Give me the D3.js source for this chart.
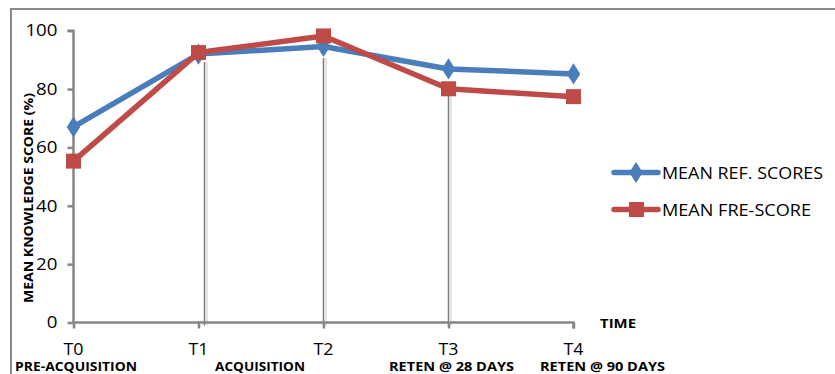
<!DOCTYPE html>
<html><head><meta charset="utf-8">
<script src="https://cdn.jsdelivr.net/npm/d3@7"></script>
<style>
html,body{margin:0;padding:0;background:#fff;}
svg{display:block;font-family:"Open Sans",sans-serif;}
</style></head>
<body><svg id="c" width="835" height="374"></svg>
<script>
const categories = ["T0","T1","T2","T3","T4"];
const phaseLabels = ["PRE-ACQUISITION","ACQUISITION","","RETEN @ 28 DAYS","RETEN @ 90 DAYS"];
const refScores = [67, 92, 94.6, 86.9, 85.2];
const freScores = [55.3, 92.5, 98.2, 80.1, 77.4];
const yTicks = [0,20,40,60,80,100];
const seriesNames = ["MEAN REF. SCORES","MEAN FRE-SCORE"];
const yTitle = "MEAN KNOWLEDGE SCORE (%)";
const xTitle = "TIME";

const svg = d3.select("#c");
const BLUE = "#4A7EBB", RED = "#BE4B48", AX = "#868686";

function stretch(sel, w){
  sel.attr("textLength", w).attr("lengthAdjust","spacingAndGlyphs");
}

// outer border
svg.append("rect").attr("x",11).attr("y",9).attr("width",840).attr("height",380)
  .attr("fill","none").attr("stroke","#8a8a8a").attr("stroke-width",2);

const x = d3.scalePoint().domain(categories).range([73.5,573.5]);
const y = d3.scaleLinear().domain([0,100]).range([322.5,30.7]);

// drop lines (hand-drawn in original)
const drops = [{c:"T1",dx:6,top:62},{c:"T2",dx:0,top:58},{c:"T3",dx:0,top:83}];
drops.forEach(d=>{
  svg.append("line").attr("x1",x(d.c)+d.dx+2.5).attr("x2",x(d.c)+d.dx+2.5)
    .attr("y1",d.top).attr("y2",y(0)+3).attr("stroke","#dcdcdc").attr("stroke-width",1.5);
  svg.append("line").attr("x1",x(d.c)+d.dx).attr("x2",x(d.c)+d.dx)
    .attr("y1",d.top).attr("y2",y(0)+3).attr("stroke","#7a7a7a").attr("stroke-width",1.5);
});

// y axis
const ya = svg.append("g").attr("transform",`translate(${x.range()[0]},0)`)
  .call(d3.axisLeft(y).tickValues(yTicks).tickSize(6).tickPadding(10));
ya.select(".domain").attr("stroke",AX).attr("stroke-width",2.5).attr("d",`M-6,${y(100)}H0V${y(0)}`);
ya.selectAll(".tick line").attr("stroke",AX).attr("stroke-width",2.5);
ya.selectAll(".tick text").attr("font-size",16.5).attr("fill","#000").attr("font-family","Open Sans")
  .each(function(d){ stretch(d3.select(this), String(d).length*10.7); });

// x axis
const xa = svg.append("g").attr("transform",`translate(0,${y(0)})`)
  .call(d3.axisBottom(x).tickSize(6).tickPadding(0).tickFormat(""));
xa.select(".domain").attr("stroke",AX).attr("stroke-width",2.5).attr("d",`M${x.range()[0]},0H${x.range()[1]}V6`);
xa.selectAll(".tick line").attr("stroke",AX).attr("stroke-width",2.5);

// category labels
svg.append("g").selectAll("text").data(categories).join("text")
  .attr("x",d=>x(d)).attr("y",355).attr("text-anchor","middle")
  .attr("font-size",15.5).attr("fill","#000").text(d=>d).call(stretch,20);

// phase labels
const phaseOffsets = [2.5, 61.5, 0, 3, 29];
const phaseWidths = [122, 90, 0, 125, 125];
svg.append("g").selectAll("text").data(phaseLabels.map((t,i)=>({t,i})).filter(d=>d.t)).join("text")
  .attr("x",d=>x(categories[d.i])+phaseOffsets[d.i]).attr("y",370.5).attr("text-anchor","middle")
  .attr("font-size",12.5).attr("font-weight","bold").attr("fill","#000")
  .attr("textLength",d=>phaseWidths[d.i]).attr("lengthAdjust","spacingAndGlyphs").text(d=>d.t);

// axis titles
svg.append("text").attr("transform","translate(33,198) rotate(-90)").attr("text-anchor","middle")
  .attr("font-size",13).attr("font-weight","bold").text(yTitle).call(stretch,210);
svg.append("text").attr("x",600).attr("y",328).attr("font-size",13).attr("font-weight","bold").text(xTitle).call(stretch,36);

// series
const line = d3.line().x((d,i)=>x(categories[i])).y(d=>y(d));
const diamond = d3.symbol().type(d3.symbolDiamond).size(130);
function drawSeries(vals,color,marker){
  svg.append("path").datum(vals).attr("d",line).attr("fill","none")
    .attr("stroke",color).attr("stroke-width",5.5).attr("stroke-linejoin","round").attr("stroke-linecap","round");
  const g = svg.append("g");
  if(marker==="diamond"){
    g.selectAll("path").data(vals).join("path")
      .attr("transform",(d,i)=>`translate(${x(categories[i])},${y(d)}) scale(1.1,1)`)
      .attr("d",diamond).attr("fill",color);
  } else {
    g.selectAll("rect").data(vals).join("rect")
      .attr("x",(d,i)=>x(categories[i])-7.5).attr("y",d=>y(d)-7.5)
      .attr("width",15).attr("height",15).attr("fill",color);
  }
}
drawSeries(refScores,BLUE,"diamond");
drawSeries(freScores,RED,"square");

// legend
const leg = svg.append("g");
const legY = [172.5, 209.5];
const legW = [161, 149];
seriesNames.forEach((n,i)=>{
  const color = i===0?BLUE:RED;
  leg.append("line").attr("x1",614).attr("x2",658).attr("y1",legY[i]).attr("y2",legY[i])
    .attr("stroke",color).attr("stroke-width",5.5).attr("stroke-linecap","round");
  if(i===0) leg.append("path").attr("transform",`translate(636,${legY[i]}) scale(1.1,1)`).attr("d",diamond).attr("fill",color);
  else leg.append("rect").attr("x",629).attr("y",legY[i]-7.5).attr("width",15).attr("height",15).attr("fill",color);
  leg.append("text").attr("x",662).attr("y",legY[i]+6).attr("font-size",16.5).attr("fill","#000").text(n).call(stretch,legW[i]);
});
</script></body></html>
